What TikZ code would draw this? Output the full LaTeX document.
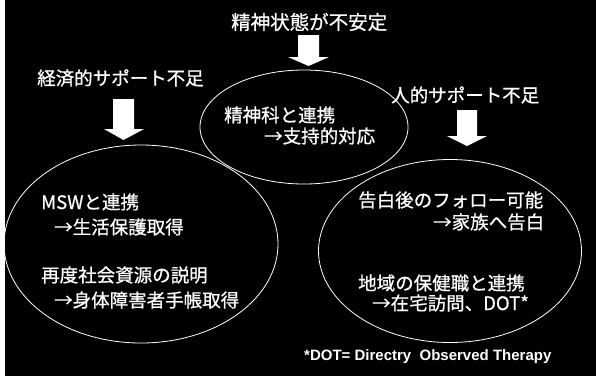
\documentclass[tikz,border=0pt]{standalone}
\usepackage{fontspec}
\newfontfamily\jp[FakeBold=0.7]{Noto Sans CJK JP}
\newfontfamily\lat{Liberation Sans}
\usetikzlibrary{shapes.geometric}
\tikzset{
  ell/.style={ellipse, draw=white, line width=0.8pt, inner sep=0pt},
  txt/.style={text=white, anchor=west, inner sep=0pt, font=\jp\fontsize{18.5}{22}\selectfont},
  blockarrow/.style={fill=white, draw=none},
}
\begin{document}
\begin{tikzpicture}[x=1pt,y=-1pt]
\useasboundingbox (0,0) rectangle (596,376);
\fill[black] (0,0) rectangle (596,376);
\fill[white] (0,0) rectangle (4.5,376);
% ellipses
\node[ell, minimum width=274pt, minimum height=198pt] (lft) at (141,244) {};
\node[ell, minimum width=208pt, minimum height=114pt] (mid) at (304,127) {};
\node[ell, minimum width=263pt, minimum height=183pt] (rgt) at (450,251) {};
% block arrows
\fill[blockarrow] (298,35) -- (319,35) -- (319,57) -- (329,57) -- (308.5,66) -- (288,57) -- (298,57) -- cycle;
\fill[blockarrow] (113,99) -- (134,99) -- (134,129) -- (144,129) -- (123.5,140) -- (104,129) -- (113,129) -- cycle;
\fill[blockarrow] (457,110) -- (477,110) -- (477,136) -- (487,136) -- (467,146) -- (447,136) -- (457,136) -- cycle;
% labels
\node[txt, font=\jp\fontsize{19.5}{22}\selectfont] (t1) at (231,22) {精神状態が不安定};
\node[txt] (t2) at (37,78) {経済的サポート不足};
\node[txt] (t3) at (391,95) {人的サポート不足};
% middle
\node[txt] (m1) at (224,115) {精神科と連携};
\node[txt] (m2) at (264,136) {→支持的対応};
% left
\node[txt] (l1) at (41,202) {MSWと連携};
\node[txt] (l2) at (54,227) {→生活保護取得};
\node[txt] (l3) at (41,275) {再度社会資源の説明};
\node[txt] (l4) at (54,300) {→身体障害者手帳取得};
% right
\node[txt] (r1) at (358,200) {告白後のフォロー可能};
\node[txt] (r2) at (433,222) {→家族へ告白};
\node[txt] (r3) at (358,283) {地域の保健職と連携};
\node[txt] (r4) at (372,303) {→在宅訪問、DOT*};
% footnote
\node[text=white, anchor=west, inner sep=0pt, font=\lat\bfseries\fontsize{15}{17}\selectfont] (fn) at (304,357) {*DOT= Directry\ \ Observed Therapy};
\end{tikzpicture}
\end{document}
